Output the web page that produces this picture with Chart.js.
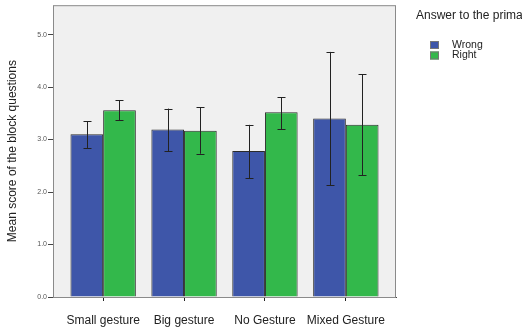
<!DOCTYPE html>
<html>
<head>
<meta charset="utf-8">
<script src="https://cdn.jsdelivr.net/npm/chart.js@4"></script>
<style>
  body { margin: 0; background: #fff; }
  canvas { display: block; }
</style>
</head>
<body>
<canvas id="chart" width="522" height="330"></canvas>
<script>
const categories = ['Small gesture', 'Big gesture', 'No Gesture', 'Mixed Gesture'];
const wrongMeans = [3.10, 3.19, 2.78, 3.40];
const wrongLow = [2.84, 2.78, 2.26, 2.13];
const wrongHigh = [3.35, 3.59, 3.28, 4.67];
const rightMeans = [3.56, 3.17, 3.52, 3.28];
const rightLow = [3.37, 2.73, 3.20, 2.32];
const rightHigh = [3.75, 3.62, 3.81, 4.24];
const yTicks = [0, 1, 2, 3, 4, 5];

const font = 'Liberation Sans, Arial, Helvetica, sans-serif';

// SPSS style frame + grey plot background
const framePlugin = {
    id: 'frame',
    beforeDatasetsDraw(chart) {
        const { ctx, chartArea: a } = chart;
        ctx.save();
        ctx.fillStyle = '#f0f0f0';
        ctx.fillRect(a.left, a.top, a.right - a.left, a.bottom - a.top);
        ctx.strokeStyle = '#8a8a8a';
        ctx.lineWidth = 1;
        ctx.strokeRect(a.left + 0.5, a.top + 0.5, a.right - a.left - 1, a.bottom - a.top);
        ctx.restore();
    }
};

// whiskers drawn from the low/high arrays
const errorBarPlugin = {
    id: 'errorBars',
    afterDatasetsDraw(chart) {
        const { ctx, scales: { y } } = chart;
        const ranges = [[wrongLow, wrongHigh], [rightLow, rightHigh]];
        ctx.save();
        ctx.strokeStyle = '#222';
        ctx.lineWidth = 1;
        chart.data.datasets.forEach((ds, di) => {
            const meta = chart.getDatasetMeta(di);
            meta.data.forEach((bar, i) => {
                const x = Math.round(bar.x) + 0.5;
                const yLo = y.getPixelForValue(ranges[di][0][i]);
                const yHi = y.getPixelForValue(ranges[di][1][i]);
                ctx.beginPath();
                ctx.moveTo(x, yHi);
                ctx.lineTo(x, yLo);
                ctx.moveTo(x - 4, Math.round(yHi) + 0.5);
                ctx.lineTo(x + 4, Math.round(yHi) + 0.5);
                ctx.moveTo(x - 4, Math.round(yLo) + 0.5);
                ctx.lineTo(x + 4, Math.round(yLo) + 0.5);
                ctx.stroke();
            });
        });
        ctx.restore();
    }
};

// legend on the right, cut by the canvas edge like the original
const legendPlugin = {
    id: 'sideLegend',
    afterDraw(chart) {
        const { ctx } = chart;
        ctx.save();
        ctx.fillStyle = '#222';
        ctx.textBaseline = 'middle';
        ctx.font = '12px ' + font;
        ctx.fillText('Answer to the primary question', 416, 15.5);
        ctx.font = '10.5px ' + font;
        chart.data.datasets.forEach((ds, i) => {
            const yc = 45 + i * 10.5;
            ctx.fillStyle = ds.backgroundColor;
            ctx.fillRect(430, yc - 4, 9, 8);
            ctx.strokeStyle = '#777';
            ctx.strokeRect(430.5, yc - 3.5, 8, 7);
            ctx.fillStyle = '#222';
            ctx.fillText(ds.label, 452, yc);
        });
        ctx.restore();
    }
};

new Chart(document.getElementById('chart'), {
    type: 'bar',
    data: {
        datasets: [{
            label: 'Wrong',
            data: wrongMeans.map((v, i) => ({ x: i, y: v })),
            backgroundColor: '#3e56a9',
            borderColor: '#2b2b2b',
            borderWidth: 1
        }, {
            label: 'Right',
            data: rightMeans.map((v, i) => ({ x: i, y: v })),
            backgroundColor: '#33b84b',
            borderColor: '#2b2b2b',
            borderWidth: 1
        }]
    },
    options: {
        responsive: false,
        animation: false,
        layout: { padding: { left: 0, right: 126, top: 4, bottom: 0 } },
        categoryPercentage: 0.808,
        barPercentage: 1,
        plugins: {
            legend: { display: false },
            tooltip: { enabled: false }
        },
        scales: {
            x: {
                type: 'linear',
                offset: false,
                min: -0.62,
                max: 3.62,
                afterBuildTicks: s => { s.ticks = categories.map((c, i) => ({ value: i })); },
                afterFit: s => { s.height = 33; },
                ticks: {
                    callback: v => categories[v],
                    color: '#222',
                    font: { family: font, size: 12 },
                    padding: 12,
                    maxRotation: 0,
                    autoSkip: false
                },
                grid: { drawOnChartArea: false, tickLength: 4, color: '#222', offset: false },
                border: { color: '#444' }
            },
            y: {
                min: 0,
                max: 5.56,
                afterBuildTicks: s => { s.ticks = yTicks.map(v => ({ value: v })); },
                afterFit: s => { s.width = 53; },
                ticks: {
                    callback: v => v.toFixed(1),
                    color: '#555',
                    font: { family: font, size: 7 },
                    padding: 1
                },
                grid: { drawOnChartArea: false, tickLength: 5, color: '#444' },
                border: { color: '#8a8a8a' },
                title: {
                    display: true,
                    text: 'Mean score of the block questions',
                    color: '#222',
                    font: { family: font, size: 12 },
                    padding: { top: 5, bottom: 0 }
                }
            }
        }
    },
    plugins: [framePlugin, errorBarPlugin, legendPlugin]
});
</script>
</body>
</html>
